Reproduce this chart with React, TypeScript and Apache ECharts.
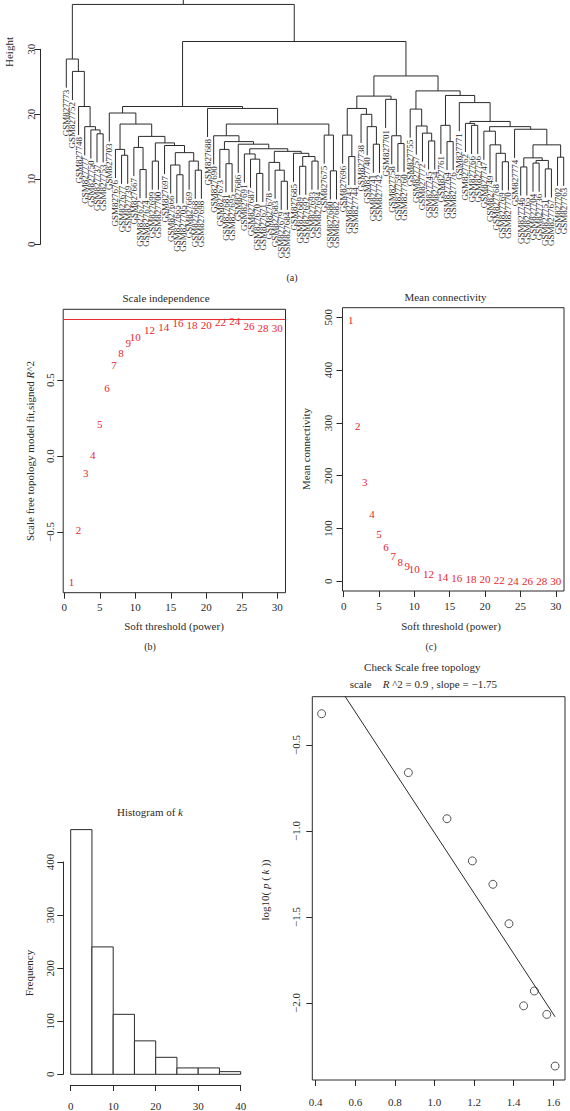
import { useEffect, useRef } from "react";
import * as echarts from "echarts";

// ---------------- DATA ----------------
// (a) sample dendrogram: merges are [left, right, height]; leaves are GSM827xxx suffixes
type Merge = number | [Merge, Merge, number];
const GSM_PREFIX = "GSM827";
const clusterA: Merge = [773, [752, [748, [777, [750, [737, 753, 17.0], 17.6], 18.1], 21.2], 26.6], 28.5];
const clusterH: Merge = [703, [[676, [677, 739, 13.7], 14.6], [[667, [672, 674, 11.5], 14.9], [[699, 700, 12.8], [697, [[666, [665, 705, 10.7], 12.2], [669, [668, 698, 11.4], 12.8], 14.1], 15.2], 15.6], 16.6], 18.5], 20.2];
const clusterS1: Merge = [690, [[673, [681, 695, 12.4], 14.6], [686, [[691, [687, [670, 671, 10.9], 13.1], 13.9], [[678, [683, [679, 684, 9.7], 11.4], 12.6], [685, [[689, 692, 12.0], [693, 694, 12.8], 13.5], 14.0], 14.3], 14.7], 15.4], 15.8], 16.7];
const clusterS2: Merge = [675, [680, 682, 11.3], 16.8];
const clusterQ1: Merge = [[[696, [743, 744, 13.5], 16.8], [738, [740, [741, 742, 15.4], 18.1], 20.0], 20.9], [701, [758, [759, 760, 15.5], 16.7], 22.3], 22.8];
const clusterQ2a: Merge = [755, [757, [772, [745, 754, 15.9], 17.1], 18.2], 20.8];
const clusterQ2d: Merge = [762, [766, 756, 18.3], 18.6];
const clusterQ2f: Merge = [747, [749, [768, [769, 770, 12.7], 14.0], 15.3], 17.4];
const clusterQ2h: Merge = [[[746, 765, 11.9], [[704, 736, 12.5], [751, 767, 11.6], 12.9], 13.3], [702, 763, 13.4], 15.3];
const clusterQ2b: Merge = [[761, [764, 776, 15.8], 18.3], [771, [clusterQ2d, [clusterQ2f, [774, clusterQ2h, 17.7], 18.1], 18.9], 21.8], 22.9];
const dendroTree: Merge = [clusterA, [[clusterH, [688, [clusterS1, clusterS2, 18.5], 20.9], 21.2], [clusterQ1, [clusterQ2a, clusterQ2b, 23.6], 25.9], 31.2], 36.9];
const dendroHang = 4.4;
const dendroRootTop = 44;
const heightTicks = [0, 10, 20, 30];

// (b) scale independence and (c) mean connectivity
const powers = [1, 2, 3, 4, 5, 6, 7, 8, 9, 10, 12, 14, 16, 18, 20, 22, 24, 26, 28, 30];
const signedR2 = [-0.831, -0.49, -0.11, 0.005, 0.21, 0.45, 0.6, 0.68, 0.746, 0.785, 0.83, 0.85, 0.877, 0.862, 0.862, 0.884, 0.89, 0.855, 0.847, 0.847];
const meanConnectivity = [495, 295, 189, 127, 89.6, 64.4, 48.5, 36.6, 29, 22.7, 13.3, 8.7, 6.2, 3.8, 3.8, 2, 1, 1, 0.8, 0.5];
const r2Cutoff = 0.9;
const powerTicks = [0, 5, 10, 15, 20, 25, 30];
const r2Ticks = [-0.5, 0, 0.5];
const kTicks = [0, 100, 200, 300, 400, 500];

// (d) histogram of k
const histBreaks = [0, 5, 10, 15, 20, 25, 30, 35, 40];
const histCounts = [461, 240, 113, 63, 32, 12, 12, 5];

// (e) scale free topology check
const log10k = [0.43, 0.868, 1.063, 1.191, 1.295, 1.376, 1.45, 1.504, 1.567, 1.609];
const log10pk = [-0.319, -0.661, -0.929, -1.174, -1.31, -1.539, -2.016, -1.93, -2.066, -2.366];
const fitX = [0.43, 1.609];
const fitY = [-0.01, -2.08];
const fitR2 = 0.9;
const fitSlope = -1.75;
const logKTicks = [0.4, 0.6, 0.8, 1.0, 1.2, 1.4, 1.6];
const logPTicks = [-2.0, -1.5, -1.0, -0.5];

// ---------------- STYLE / LAYOUT ----------------
const FONT = "'Liberation Serif', 'Times New Roman', serif";
const INK = "#2a2a2a";
const RED = "#e8262c";

const box = {
  a: { left: 66.3, right: 563.7, top: 49.3, bottom: 244.3 },
  b: { left: 63.2, right: 285.5, top: 309.3, bottom: 592.7 },
  c: { left: 342.5, right: 564, top: 307.7, bottom: 591 },
  d: { left: 70.7, right: 240.7, top: 862, bottom: 1085.3 },
  e: { left: 312.3, right: 565, top: 696.7, bottom: 1080 },
};
const powerRange = [-0.16, 31.16];
const r2Range = [-0.9, 0.967];
const kRange = [-18.4, 518.2];
const logKRange = [0.383, 1.659];
const logPRange = [-2.447, -0.22];

const minus = (s: string) => s.replace("-", "\u2212");

function gridOf(b: { left: number; right: number; top: number; bottom: number }, show: boolean) {
  return {
    left: b.left,
    top: b.top,
    width: b.right - b.left,
    height: b.bottom - b.top,
    show,
    borderColor: INK,
    borderWidth: 1,
    backgroundColor: "transparent",
    containLabel: false,
  };
}

function buildDendrogram(tree: Merge) {
  const segs: number[][] = [];
  const leaves: [number, number, string][] = [];
  let n = 0;
  const walk = (node: Merge): { x: number; h: number; leaf: boolean; id: number } => {
    if (typeof node === "number") {
      n += 1;
      return { x: n, h: 0, leaf: true, id: node };
    }
    const l = walk(node[0]);
    const r = walk(node[1]);
    const h = node[2];
    for (const c of [l, r]) {
      const bottom = c.leaf ? h - dendroHang : c.h;
      segs.push([c.x, h, c.x, bottom]);
      if (c.leaf) leaves.push([c.x, bottom, GSM_PREFIX + c.id]);
    }
    segs.push([l.x, h, r.x, h]);
    return { x: (l.x + r.x) / 2, h, leaf: false, id: 0 };
  };
  const root = walk(tree);
  segs.push([root.x, root.h, root.x, dendroRootTop]);
  return { segs, leaves, count: n };
}

const tickStyle = { color: INK, width: 1 };

function valueAxis(gridIndex: number, min: number, max: number, opts: any) {
  const ticks = opts.ticks;
  return {
    type: "value",
    gridIndex,
    min,
    max,
    interval: opts.interval,
    offset: opts.offset || 0,
    axisLine: { show: !!opts.line, onZero: false, lineStyle: tickStyle },
    axisTick: ticks
      ? { show: true, length: 6, customValues: ticks, lineStyle: tickStyle }
      : { show: true, length: 6, lineStyle: tickStyle },
    axisLabel: {
      ...(ticks ? { customValues: ticks } : {}),
      rotate: opts.rotate || 0,
      margin: opts.margin,
      color: INK,
      fontSize: 11,
      fontFamily: FONT,
      formatter: opts.formatter,
    },
    splitLine: { show: false },
  };
}

function text(t: string, x: number, y: number, opts: any = {}) {
  return {
    type: "text",
    x,
    y,
    rotation: opts.rotate ? Math.PI / 2 : 0,
    style: {
      text: t,
      fill: INK,
      fontSize: opts.fontSize || 11,
      fontFamily: FONT,
      align: "center",
      verticalAlign: "middle",
      rich: opts.rich,
    },
  };
}

const richNI = (fontSize = 11) => ({
  n: { fontSize, fontFamily: FONT, fill: INK },
  i: { fontSize, fontFamily: FONT, fill: INK, fontStyle: "italic" },
});

const fmt1 = (v: number) => minus(v.toFixed(1));

export default function App() {
  const ref = useRef<HTMLDivElement>(null);

  useEffect(() => {
    if (!ref.current) return;
    const chart = echarts.init(ref.current, null, { renderer: "svg" });
    const dendro = buildDendrogram(dendroTree);

    const labelOfPower = (params: any, api: any) => {
      const p = api.coord([api.value(0), api.value(1)]);
      return {
        type: "text",
        x: p[0],
        y: p[1],
        style: {
          text: String(api.value(0)),
          fill: RED,
          fontSize: 11,
          fontFamily: FONT,
          align: "center",
          verticalAlign: "middle",
        },
      };
    };

    const option: any = {
      animation: false,
      backgroundColor: "#ffffff",
      grid: [gridOf(box.a, false), gridOf(box.b, true), gridOf(box.c, true), gridOf(box.d, false), gridOf(box.e, true)],
      xAxis: [
        { type: "value", gridIndex: 0, min: 1, max: dendro.count, show: false },
        valueAxis(1, powerRange[0], powerRange[1], { ticks: powerTicks, margin: 9 }),
        valueAxis(2, powerRange[0], powerRange[1], { ticks: powerTicks, margin: 9 }),
        valueAxis(3, histBreaks[0], histBreaks[histBreaks.length - 1], {
          interval: 10, offset: 10.7, line: true, margin: 15,
        }),
        valueAxis(4, logKRange[0], logKRange[1], { ticks: logKTicks, margin: 16, formatter: (v: number) => v.toFixed(1) }),
      ],
      yAxis: [
        valueAxis(0, heightTicks[0], heightTicks[heightTicks.length - 1], {
          interval: 10, offset: box.a.left - 40.3, line: true, rotate: 90, margin: 4,
        }),
        valueAxis(1, r2Range[0], r2Range[1], { ticks: r2Ticks, rotate: 90, margin: 8, formatter: fmt1 }),
        valueAxis(2, kRange[0], kRange[1], { ticks: kTicks, rotate: 90, margin: 9 }),
        valueAxis(3, 0, 400, { interval: 100, offset: box.d.left - 63.3, line: true, rotate: 90, margin: 8 }),
        valueAxis(4, logPRange[0], logPRange[1], { ticks: logPTicks, rotate: 90, margin: 11, formatter: fmt1 }),
      ],
      series: [
        {
          type: "custom",
          xAxisIndex: 0,
          yAxisIndex: 0,
          clip: false,
          dimensions: ["x1", "y1", "x2", "y2"],
          encode: { x: [0, 2], y: [1, 3] },
          data: dendro.segs,
          renderItem: (params: any, api: any) => {
            const p1 = api.coord([api.value(0), api.value(1)]);
            const p2 = api.coord([api.value(2), api.value(3)]);
            return {
              type: "line",
              shape: { x1: p1[0], y1: p1[1], x2: p2[0], y2: p2[1] },
              style: { stroke: INK, lineWidth: 1 },
            };
          },
        },
        {
          type: "custom",
          xAxisIndex: 0,
          yAxisIndex: 0,
          clip: false,
          dimensions: ["x", "y", "label"],
          encode: { x: 0, y: 1 },
          data: dendro.leaves,
          renderItem: (params: any, api: any) => {
            const p = api.coord([api.value(0), api.value(1)]);
            return {
              type: "text",
              x: p[0],
              y: p[1] + 2,
              rotation: Math.PI / 2,
              style: {
                text: dendro.leaves[params.dataIndex][2],
                fill: INK,
                fontSize: 9,
                fontFamily: FONT,
                align: "right",
                verticalAlign: "middle",
              },
            };
          },
        },
        {
          type: "line",
          xAxisIndex: 1,
          yAxisIndex: 1,
          data: [[powerRange[0], r2Cutoff], [powerRange[1], r2Cutoff]],
          showSymbol: false,
          symbol: "none",
          color: RED,
          lineStyle: { color: RED, width: 1 },
        },
        {
          type: "custom",
          xAxisIndex: 1,
          yAxisIndex: 1,
          data: powers.map((p, i) => [p, signedR2[i]]),
          renderItem: labelOfPower,
        },
        {
          type: "custom",
          xAxisIndex: 2,
          yAxisIndex: 2,
          data: powers.map((p, i) => [p, meanConnectivity[i]]),
          renderItem: labelOfPower,
        },
        {
          type: "custom",
          xAxisIndex: 3,
          yAxisIndex: 3,
          clip: false,
          data: histCounts.map((c, i) => [histBreaks[i], histBreaks[i + 1], c]),
          renderItem: (params: any, api: any) => {
            const p0 = api.coord([api.value(0), 0]);
            const p1 = api.coord([api.value(1), api.value(2)]);
            return {
              type: "rect",
              shape: { x: p0[0], y: p1[1], width: p1[0] - p0[0], height: p0[1] - p1[1] },
              style: { fill: "#ffffff", stroke: INK, lineWidth: 1 },
            };
          },
        },
        {
          type: "line",
          xAxisIndex: 4,
          yAxisIndex: 4,
          data: fitX.map((x, i) => [x, fitY[i]]),
          showSymbol: false,
          symbol: "none",
          clip: true,
          lineStyle: { color: INK, width: 1 },
        },
        {
          type: "scatter",
          xAxisIndex: 4,
          yAxisIndex: 4,
          data: log10k.map((x, i) => [x, log10pk[i]]),
          symbol: "circle",
          symbolSize: 8,
          itemStyle: { color: "#ffffff", borderColor: INK, borderWidth: 1 },
        },
      ],
      graphic: [
        text("Height", 8.5, 52, { rotate: true }),
        text("(a)", 292, 277, { fontSize: 10 }),
        text("Scale independence", 166, 298),
        text("{n|Scale free topology model fit,signed }{i|R}{n|^2}", 30, 451, { rotate: true, rich: richNI() }),
        text("Soft threshold (power)", 174, 626),
        text("(b)", 150, 646, { fontSize: 10 }),
        text("Mean connectivity", 445.5, 297),
        text("Mean connectivity", 305.7, 449, { rotate: true }),
        text("Soft threshold (power)", 451, 626),
        text("(c)", 431, 646, { fontSize: 10 }),
        text("{n|Histogram of }{i|k}", 150, 812.3, { rich: richNI() }),
        text("Frequency", 29.3, 973, { rotate: true }),
        text("Check Scale free topology", 422.3, 666.7),
        text(
          "{n|scale    }{i|R}{n| ^2 = " + fitR2 + " , slope = " + minus(String(fitSlope)) + "}",
          423.3, 684.3, { rich: richNI() }
        ),
        text("{n|log10( }{i|p}{n| ( }{i|k}{n| ))}", 265, 890, { rotate: true, rich: richNI() }),
      ],
    };

    chart.setOption(option);
    return () => chart.dispose();
  }, []);

  return (
    <div
      ref={ref}
      style={{ position: "absolute", left: 0, top: 0, width: 570, height: 1111, background: "#ffffff" }}
    />
  );
}
